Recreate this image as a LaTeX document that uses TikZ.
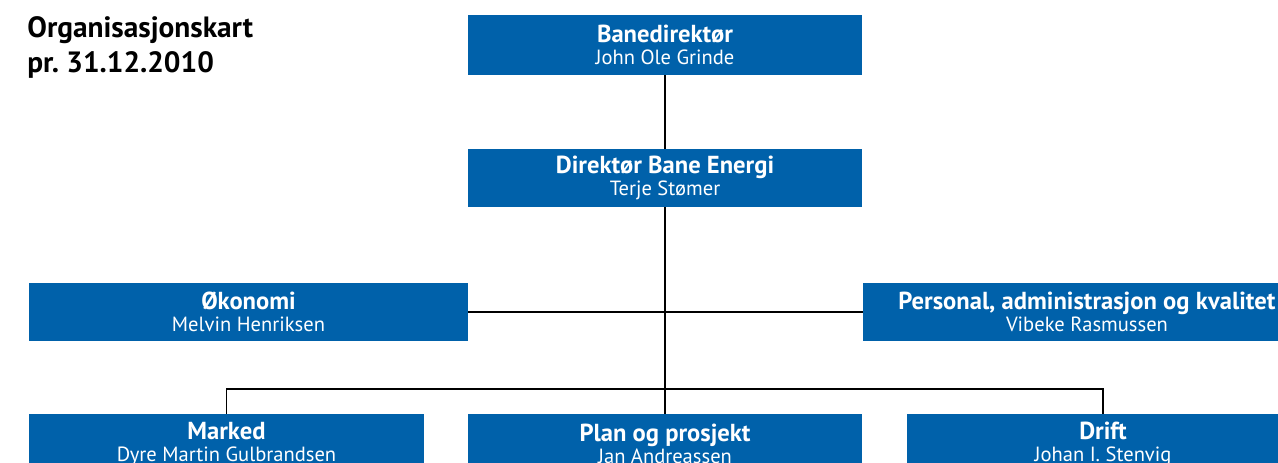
\documentclass[tikz,border=0pt]{standalone}
\usepackage{fontspec}
\setmainfont{PT Sans}
\usepackage{xcolor}
\definecolor{jbvblue}{RGB}{0,97,170}
\newcommand{\headname}[1]{{\fontsize{14}{12.5}\selectfont\bfseries #1}}

\begin{document}
\begin{tikzpicture}[x=0.02cm,y=-0.02cm]
  \tikzset{unit/.style = {rectangle, fill=jbvblue, text=white, inner sep=0pt,
      align=center, minimum height=1.16cm, font=\fontsize{11.7}{12.5}\selectfont},
    link/.style = {draw=black, line width=0.8pt}}
  \useasboundingbox (0,0) rectangle (1278,463);
  \clip (0,0) rectangle (1278,463);
  \node[anchor=north west, align=left, inner sep=0pt,
    font=\fontsize{16.7}{19.8}\selectfont\bfseries\frenchspacing] (title) at (27,16)
    {Organisasjonskart\\pr. 31.12.2010};
  % ledelse
  \node[unit, minimum width=7.88cm, minimum height=1.2cm] (bane) at (665,45)
    {\headname{Banedirektør}\\John Ole Grinde};
  \node[unit, minimum width=7.88cm] (dir) at (665,178)
    {\headname{Direktør Bane Energi}\\Terje Stømer};
  % stab
  \node[unit, minimum width=8.78cm] (okonomi) at (248.5,312)
    {\headname{Økonomi}\\Melvin Henriksen};
  \node[unit, minimum width=8.96cm] (personal) at (1087,312)
    {\headname{Personal, administrasjon og kvalitet}\\Vibeke Rasmussen};
  % linje
  \node[unit, minimum width=7.9cm, minimum height=1.2cm] (marked) at (226.5,444)
    {\headname{Marked}\\Dyre Martin Gulbrandsen};
  \node[unit, minimum width=7.88cm, minimum height=1.2cm] (plan) at (665,444)
    {\headname{Plan og prosjekt}\\Jan Andreassen};
  \node[unit, minimum width=7.84cm, minimum height=1.2cm] (drift) at (1103,444)
    {\headname{Drift}\\Johan I. Stenvig};
  \coordinate (bus) at (665,389);
  \draw[link] (bane) -- (dir);
  \draw[link] (dir) -- (plan);
  \draw[link] (okonomi) -- (personal);
  \draw[link] (marked.north) |- (bus) -| (drift.north);
\end{tikzpicture}
\end{document}
